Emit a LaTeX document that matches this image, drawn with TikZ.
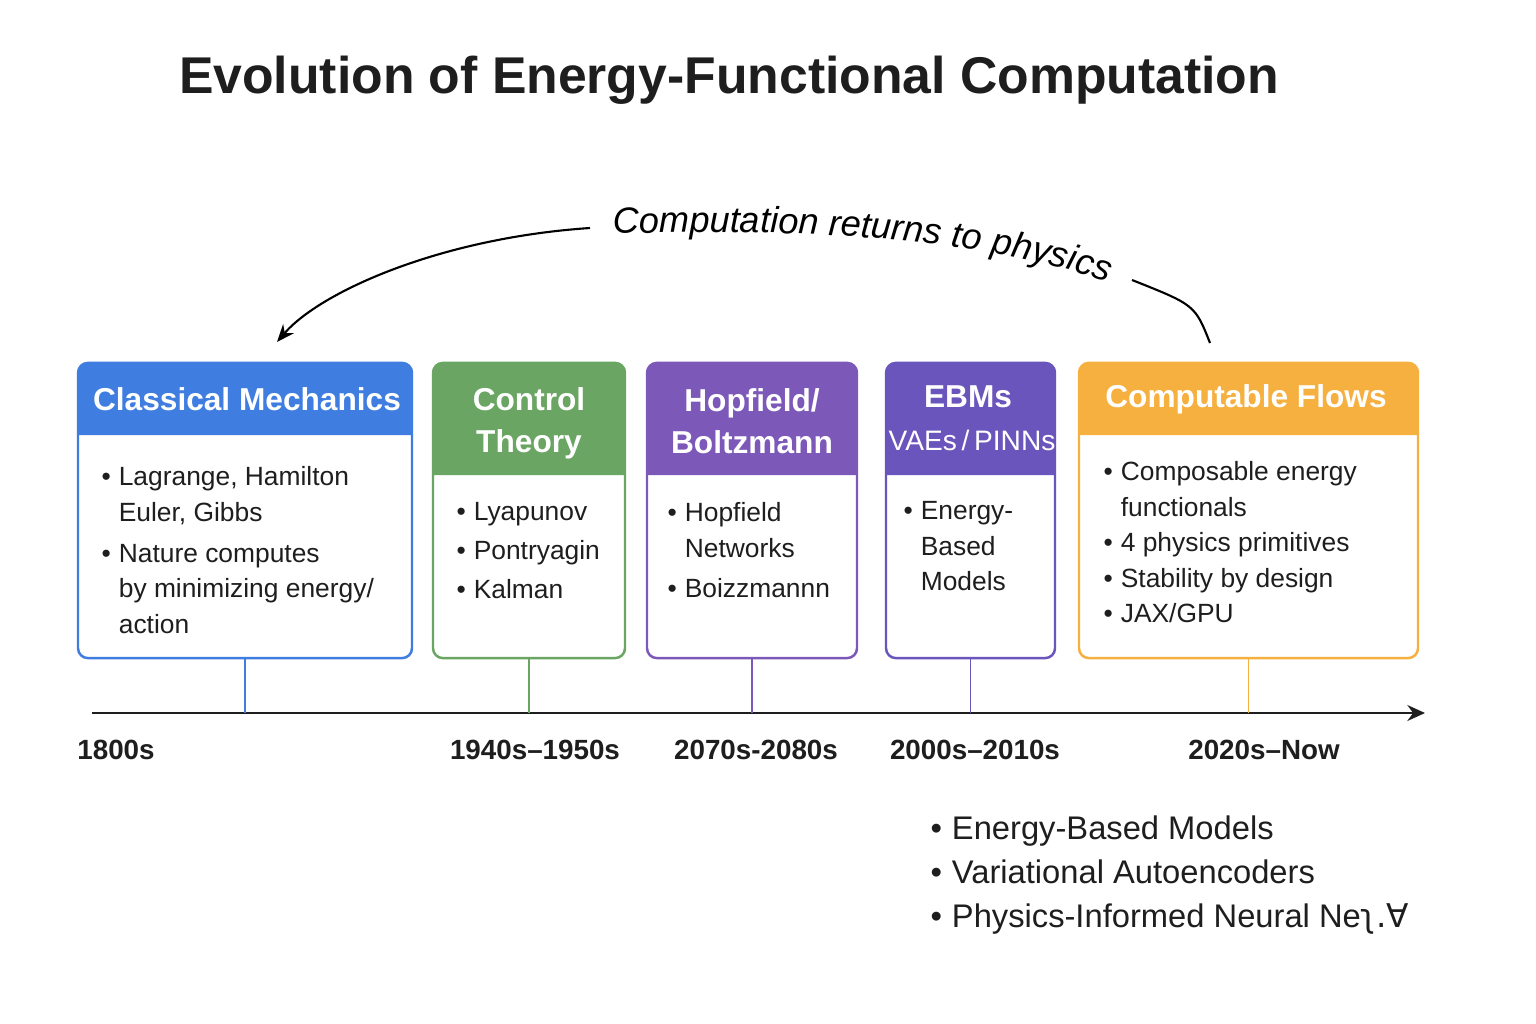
\documentclass[tikz,border=0pt]{standalone}
\usepackage{fontspec}
\setmainfont{Liberation Sans}
\newfontfamily\symfont{DejaVu Sans}
\usetikzlibrary{arrows.meta, positioning, decorations.text}

\definecolor{cmblue}{HTML}{3F7EE0}
\definecolor{ctgreen}{HTML}{6AA563}
\definecolor{hbpurple}{HTML}{7C58B8}
\definecolor{ebmpurple}{HTML}{6A55BC}
\definecolor{cforange}{HTML}{F6B03F}
\definecolor{ink}{HTML}{1E1E1E}

\newcommand{\bul}{\makebox[0.65em][l]{\textbullet}}
\newcommand{\ind}{\hspace*{0.65em}}

\begin{document}
\begin{tikzpicture}[x=0.01cm, y=-0.01cm,
  card/.style={draw, line width=0.7pt, rounded corners=2.8pt, inner sep=0pt},
  head/.style={text=white, align=center, inner sep=0pt, font=\bfseries\fontsize{9}{12}\selectfont},
  subhead/.style={text=white, inner sep=0pt, font=\fontsize{8}{10}\selectfont},
  body/.style={anchor=north west, align=left, inner sep=0pt, text=ink, font=\fontsize{7.5}{10.1}\selectfont},
  year/.style={text=ink, inner sep=0pt, font=\bfseries\fontsize{7.9}{10}\selectfont},
  arc/.style={line width=0.6pt, black},
  tick/.style={line width=0.55pt}]
  \useasboundingbox (0,0) rectangle (1536,1024);
  \fill[white] (0,0) rectangle (1536,1024);

  \node[text=ink, font=\bfseries\fontsize{14.7}{17}\selectfont] (ttl) at (729,80) {Evolution of Energy-Functional Computation};

  % cards: header band first, then the outline on top
  \foreach \nm/\xl/\xr/\hb/\col in {cm/78/412/435/cmblue, ct/433/625/475/ctgreen,
      hb/647/857/475/hbpurple, ebm/886/1055/475/ebmpurple, cf/1079/1418/435/cforange}
  {
    \fill[\col] (\xl,\hb) [rounded corners=2.8pt] -- (\xl,363) -- (\xr,363) [sharp corners] -- (\xr,\hb) -- cycle;
    \node[card, draw=\col, minimum width={(\xr-\xl)*0.01cm}, minimum height=2.95cm] (\nm) at ({(\xl+\xr)/2},510.5) {};
  }

  % headers
  \node[head] (cmh) at (247,399) {Classical Mechanics};
  \node[head] (cth) at (529,423) {Control\\Theory};
  \node[head] (hbh) at (752,421) {Hopfield/\\Boltzmann};
  \node[head] (ebmh) at (968,397) {EBMs};
  \node[subhead] (ebms) at (972,440) {VAEs\,/\,PINNs};
  \node[head] (cfh) at (1246,399) {Computable Flows};

  % bodies
  \node[body] (cmb) at (101,466) {\bul Lagrange, Hamilton\\ \ind Euler, Gibbs\\[1.5pt]
    \bul Nature computes\\ \ind by minimizing energy/\\ \ind action};
  \node[body] (ctb) at (456,502) {\bul Lyapunov\\[0.9pt] \bul Pontryagin\\[0.9pt] \bul Kalman};
  \node[body] (hbb) at (667,502) {\bul Hopfield\\ \ind Networks\\[1.4pt] \bul Boizzmannn};
  \node[body] (ebmb) at (903,501) {\bul Energy-\\ \ind Based\\ \ind Models};
  \node[body] (cfb) at (1103,461) {\bul Composable energy\\ \ind functionals\\ \bul 4 physics primitives\\
    \bul Stability by design\\ \bul JAX/GPU};

  % timeline
  \coordinate (ax0) at (92,713);
  \coordinate (ax1) at (1425,713);
  \draw[line width=0.8pt, ink, -{Stealth[length=5pt, width=4.5pt]}] (ax0) -- (ax1);
  \foreach \nm/\col in {cm/cmblue, ct/ctgreen, hb/hbpurple, ebm/ebmpurple, cf/cforange}
    \draw[tick, \col] (\nm.south) -- (\nm.south |- ax0);

  \node[year] (y1) at (116,750) {1800s};
  \node[year] (y2) at (535,750) {1940s–1950s};
  \node[year] (y3) at (756,750) {2070s-2080s};
  \node[year] (y4) at (975,750) {2000s–2010s};
  \node[year] (y5) at (1264,750) {2020s–Now};

  % return arc
  \coordinate (cfarc) at (1210,343);
  \coordinate (arcr) at (1132,280);
  \coordinate (arcl) at (590,228);
  \coordinate (cmarc) at (277,342);
  \draw[arc] (cfarc) .. controls (1195,305) .. (arcr);
  \draw[arc, -{Stealth[length=5pt, width=4pt]}] (arcl) .. controls (440,238) and (320,292) .. (cmarc);
  \path[decorate, decoration={text along path, text align=left,
      text={|\itshape\fontsize{10.3}{12}\selectfont|Computation returns to physics}}]
    (613,234) .. controls (820,227) and (1000,240) .. (1120,287);

  % acronyms
  \node[body, font=\fontsize{9.3}{12.5}\selectfont] (acr) at (930,815) {\bul Energy-Based Models\\
    \bul Variational Autoencoders\\ \bul Physics-Informed Neural Ne{\symfont ʅ.∀}};
\end{tikzpicture}
\end{document}
